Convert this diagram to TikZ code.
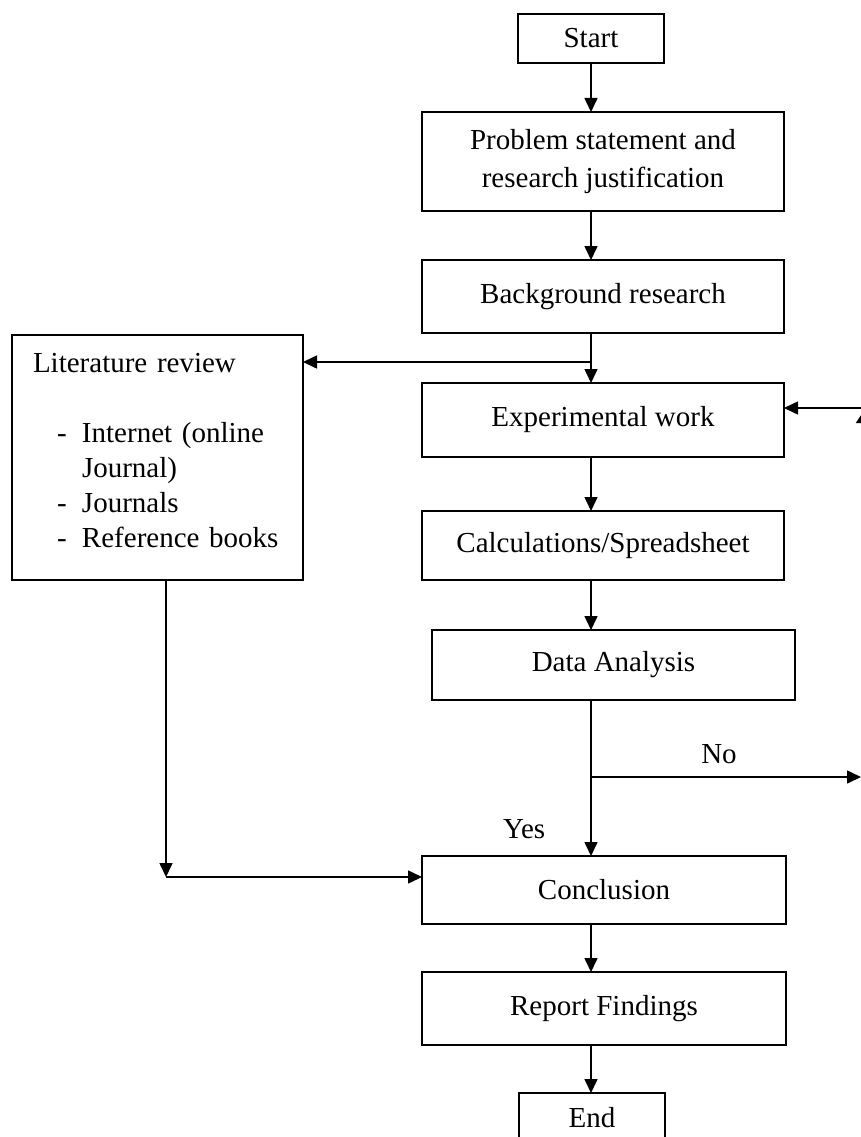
\documentclass[tikz,border=0pt]{standalone}
\usepackage{fontspec}
\setmainfont{Liberation Serif}
\usepackage{tikz}
\usetikzlibrary{shapes, arrows.meta, positioning}

\newcommand{\litline}[1]{\hspace*{24pt}\makebox[25pt][l]{-}#1}

\begin{document}
\begin{tikzpicture}[
        x=1pt, y=-1pt,
        every node/.style={font=\fontsize{29pt}{35pt}\selectfont},
        stage/.style={rectangle, draw=black, line width=1.3pt, inner sep=0pt, outer sep=0pt, minimum width=362pt, align=center},
        term/.style={stage, minimum width=146pt, minimum height=49pt},
        lbl/.style={inner sep=0pt},
        arrow/.style={-{Triangle[length=14pt, width=13pt]}, line width=1.6pt}
    ]
        \useasboundingbox[fill=white] (0,0) rectangle (860,1137);

        \node[term] (start) at (591,38.5) {Start};
        \node[stage, minimum height=99pt, below=49pt of start, xshift=12pt] (problem) {Problem statement and\\[3pt] research justification};
        \node[stage, minimum height=73pt, below=49pt of problem] (bg) {Background research};
        \node[stage, minimum height=74pt, below=50pt of bg] (exp) {Experimental work};
        \node[stage, minimum height=69pt, below=54pt of exp] (calc) {Calculations/Spreadsheet};
        \node[stage, minimum width=363pt, minimum height=70pt, below=50pt of calc, xshift=10.5pt] (data) {Data Analysis};
        \node[stage, minimum width=364pt, minimum height=68pt, below=156pt of data, xshift=-9.5pt] (concl) {Conclusion};
        \node[stage, minimum width=364pt, minimum height=73pt, below=48pt of concl] (report) {Report Findings};
        \node[term, below=48pt of report, xshift=-12pt] (end) {End};

        \node[stage, minimum width=0pt, text width=249pt, inner xsep=21pt, minimum height=245pt, align=left] (lit) at (157.5,457.5)
            {Literature review\\[35pt]
             \litline{Internet (online}\\
             \hspace*{49pt}Journal)\\
             \litline{Journals}\\
             \litline{Reference books\rule[-14pt]{0pt}{14pt}}};

        % Branch points
        \coordinate (bgout) at (bg.south -| start);
        \coordinate[below=29pt of bgout] (litsplit);
        \coordinate (dataout) at (data.south -| start);
        \coordinate[below=77pt of dataout] (nosplit);
        \coordinate (redge) at (861,0);
        \coordinate (expin) at ([yshift=12pt]exp.east);
        \coordinate (litout) at ([xshift=8.5pt]lit.south);
        \coordinate (conclin) at ([yshift=13pt]concl.west);
        \coordinate (litcorner) at (litout |- conclin);
        \coordinate (loopbot) at (865,760);
        \coordinate (looptop) at (865,409);

        % Arrows
        \draw[arrow] (start) -- (start |- problem.north);
        \draw[arrow] (problem.south -| start) -- (bg.north -| start);
        \draw[arrow] (bgout) -- (exp.north -| start);
        \draw[arrow] (exp.south -| start) -- (calc.north -| start);
        \draw[arrow] (calc.south -| start) -- (data.north -| start);
        \draw[arrow] (dataout) -- node[lbl, pos=0.83, left=45pt] {Yes} (concl.north -| start);
        \draw[arrow] (concl.south -| start) -- (report.north -| start);
        \draw[arrow] (report.south -| start) -- (end.north -| start);

        % Literature review
        \draw[arrow] (litsplit) -- (litsplit -| lit.east);
        \draw[arrow] (litout) -- (litcorner);
        \draw[arrow] (litcorner) -- (conclin);

        % Loop back
        \draw[arrow] (nosplit) -- node[lbl, pos=0.474, above=12pt] {No} (nosplit -| redge);
        \draw[arrow, -{Triangle[length=14pt, width=18pt]}] (loopbot) -- (looptop);
        \draw[arrow] (expin -| redge) -- (expin);

    \end{tikzpicture}
\end{document}
